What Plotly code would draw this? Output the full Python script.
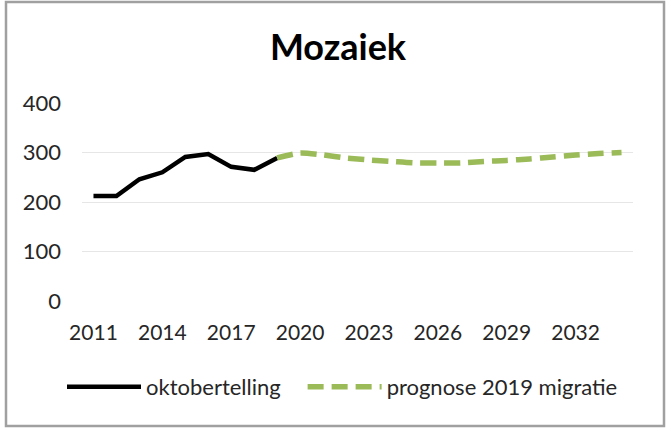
import plotly.graph_objects as go

# oktobertelling (observed) and prognose 2019 migratie (forecast)
years_obs = list(range(2011, 2020))
obs_values = [212, 212, 246, 260, 291, 297, 271, 265, 289]

years_prog = list(range(2019, 2035))
prog_values = [289, 299, 295, 289, 285, 282, 279, 279, 279, 282, 284, 287, 291, 295, 298, 300]

tick_years = list(range(2011, 2033, 3))
y_ticks = [0, 100, 200, 300, 400]

FONT = "Lato, Calibri, 'Open Sans', sans-serif"
W, H = 668, 430
L, R, T, B = 82, 35, 103, 129

fig = go.Figure()

# trailing no-break spaces widen the gap between the two legend entries
fig.add_trace(go.Scatter(
    x=years_obs, y=obs_values,
    mode="lines",
    name="oktobertelling\u00a0\u00a0\u00a0",
    line=dict(color="#000000", width=4.5),
))

fig.add_trace(go.Scatter(
    x=years_prog, y=prog_values,
    mode="lines",
    name="prognose 2019 migratie",
    line=dict(color="#9BBB59", width=5.5, dash="16px,8px", shape="spline", smoothing=0.6),
))

# outer chart border, converted from pixel to paper coords
pw, ph = W - L - R, H - T - B
def px_x(v):
    return (v - L) / pw
def px_y(v):
    return (H - B - v) / ph

fig.add_shape(
    type="rect", xref="paper", yref="paper",
    x0=px_x(6), x1=px_x(664), y0=px_y(426), y1=px_y(2),
    line=dict(color="#a0a0a0", width=2.5),
    fillcolor="rgba(0,0,0,0)",
)

fig.update_layout(
    width=W, height=H,
    margin=dict(l=L, r=R, t=T, b=B),
    paper_bgcolor="white",
    plot_bgcolor="white",
    font=dict(family=FONT, size=21, color="#262626"),
    title=dict(
        text="<b>Mozaiek</b>",
        x=338 / W, xanchor="center",
        y=1 - 47 / H, yanchor="middle",
        font=dict(family=FONT, size=36, color="#000000"),
    ),
    showlegend=True,
    legend=dict(
        orientation="h",
        x=px_x(62), xanchor="left",
        y=px_y(387), yanchor="middle",
        font=dict(family=FONT, size=22, color="#262626"),
        itemwidth=74,
        tracegroupgap=0,
    ),
    xaxis=dict(
        range=[2010.5, 2034.5],
        tickvals=tick_years,
        ticktext=[str(y) for y in tick_years],
        showgrid=False,
        zeroline=False,
        showline=False,
        ticks="",
        ticklabelstandoff=17,
    ),
    yaxis=dict(
        range=[0, 400],
        tickvals=y_ticks,
        showgrid=True,
        gridcolor="#e6e6e6",
        gridwidth=1,
        zeroline=False,
        showline=False,
        ticks="",
        ticklabelstandoff=20,
        tickfont=dict(size=22),
    ),
)

fig.write_html(
    "out.html",
    config={"displayModeBar": False},
    post_script="document.body.style.margin='0';",
)
